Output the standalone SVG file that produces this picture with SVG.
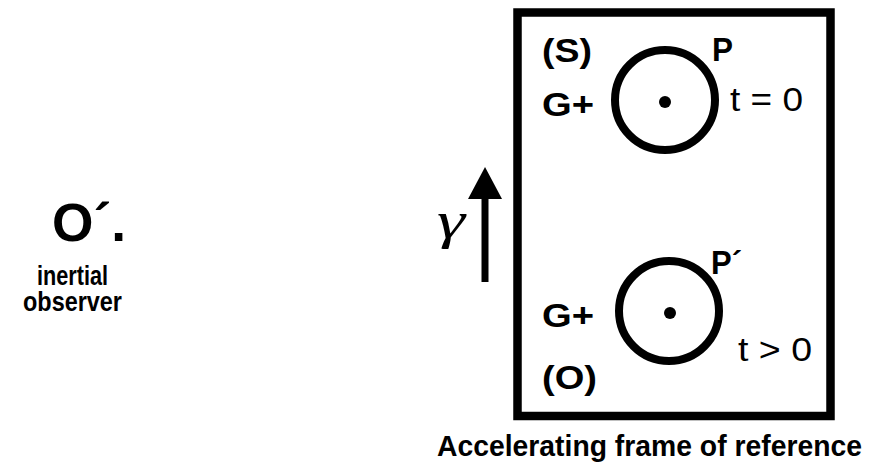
<svg xmlns="http://www.w3.org/2000/svg" width="872" height="466" viewBox="0 0 872 466">
<style>
.b{font-family:"Liberation Sans Narrow","Liberation Sans",Arial,sans-serif;font-weight:bold;fill:#000}
.bw{font-family:"Liberation Sans",Arial,sans-serif;font-weight:bold;fill:#000}
.r{font-family:"Liberation Sans",Arial,sans-serif;font-weight:normal;fill:#000}
.ring{fill:none;stroke:#000;stroke-width:8}
</style>
<rect width="872" height="466" fill="#fff"/>
<g id="observer">
<text class="bw" x="52" y="241" font-size="53" textLength="74" lengthAdjust="spacingAndGlyphs">O´.</text>
<text class="b" x="37" y="285" font-size="28" textLength="71" lengthAdjust="spacingAndGlyphs">inertial</text>
<text class="b" x="23" y="311" font-size="28" textLength="99" lengthAdjust="spacingAndGlyphs">observer</text>
</g>
<g id="frame">
<rect x="517.5" y="12.5" width="313" height="403.5" fill="none" stroke="#000" stroke-width="8.5"/>
<text class="b" x="437" y="456" font-size="29" textLength="425" lengthAdjust="spacingAndGlyphs">Accelerating frame of reference</text>
</g>
<g id="particle-top">
<circle class="ring" cx="665" cy="100" r="50"/>
<circle cx="665" cy="102" r="6"/>
<text class="bw" x="542" y="62" font-size="34" textLength="50" lengthAdjust="spacingAndGlyphs">(S)</text>
<text class="bw" x="542" y="116" font-size="34" textLength="52" lengthAdjust="spacingAndGlyphs">G+</text>
<text class="bw" x="712" y="61" font-size="34" textLength="21" lengthAdjust="spacingAndGlyphs">P</text>
<text class="r" x="730" y="111" font-size="34" textLength="73" lengthAdjust="spacingAndGlyphs">t = 0</text>
</g>
<g id="particle-bottom">
<circle class="ring" cx="669" cy="311" r="50"/>
<circle cx="670" cy="313" r="6"/>
<text class="bw" x="542" y="327" font-size="34" textLength="52" lengthAdjust="spacingAndGlyphs">G+</text>
<text class="bw" x="542" y="389" font-size="34" textLength="55" lengthAdjust="spacingAndGlyphs">(O)</text>
<text class="bw" x="711" y="274" font-size="34" textLength="31" lengthAdjust="spacingAndGlyphs">P´</text>
<text class="r" x="738" y="361" font-size="34" textLength="74" lengthAdjust="spacingAndGlyphs">t &gt; 0</text>
</g>
<g id="connectors">
<line x1="485" y1="196" x2="485" y2="282" stroke="#000" stroke-width="7"/>
<polygon points="485,167 468,199 502,199" fill="#000"/>
<text x="437" y="238" font-family="Liberation Serif,serif" font-style="italic" font-size="52" textLength="28" lengthAdjust="spacingAndGlyphs">γ</text>
</g>
</svg>
